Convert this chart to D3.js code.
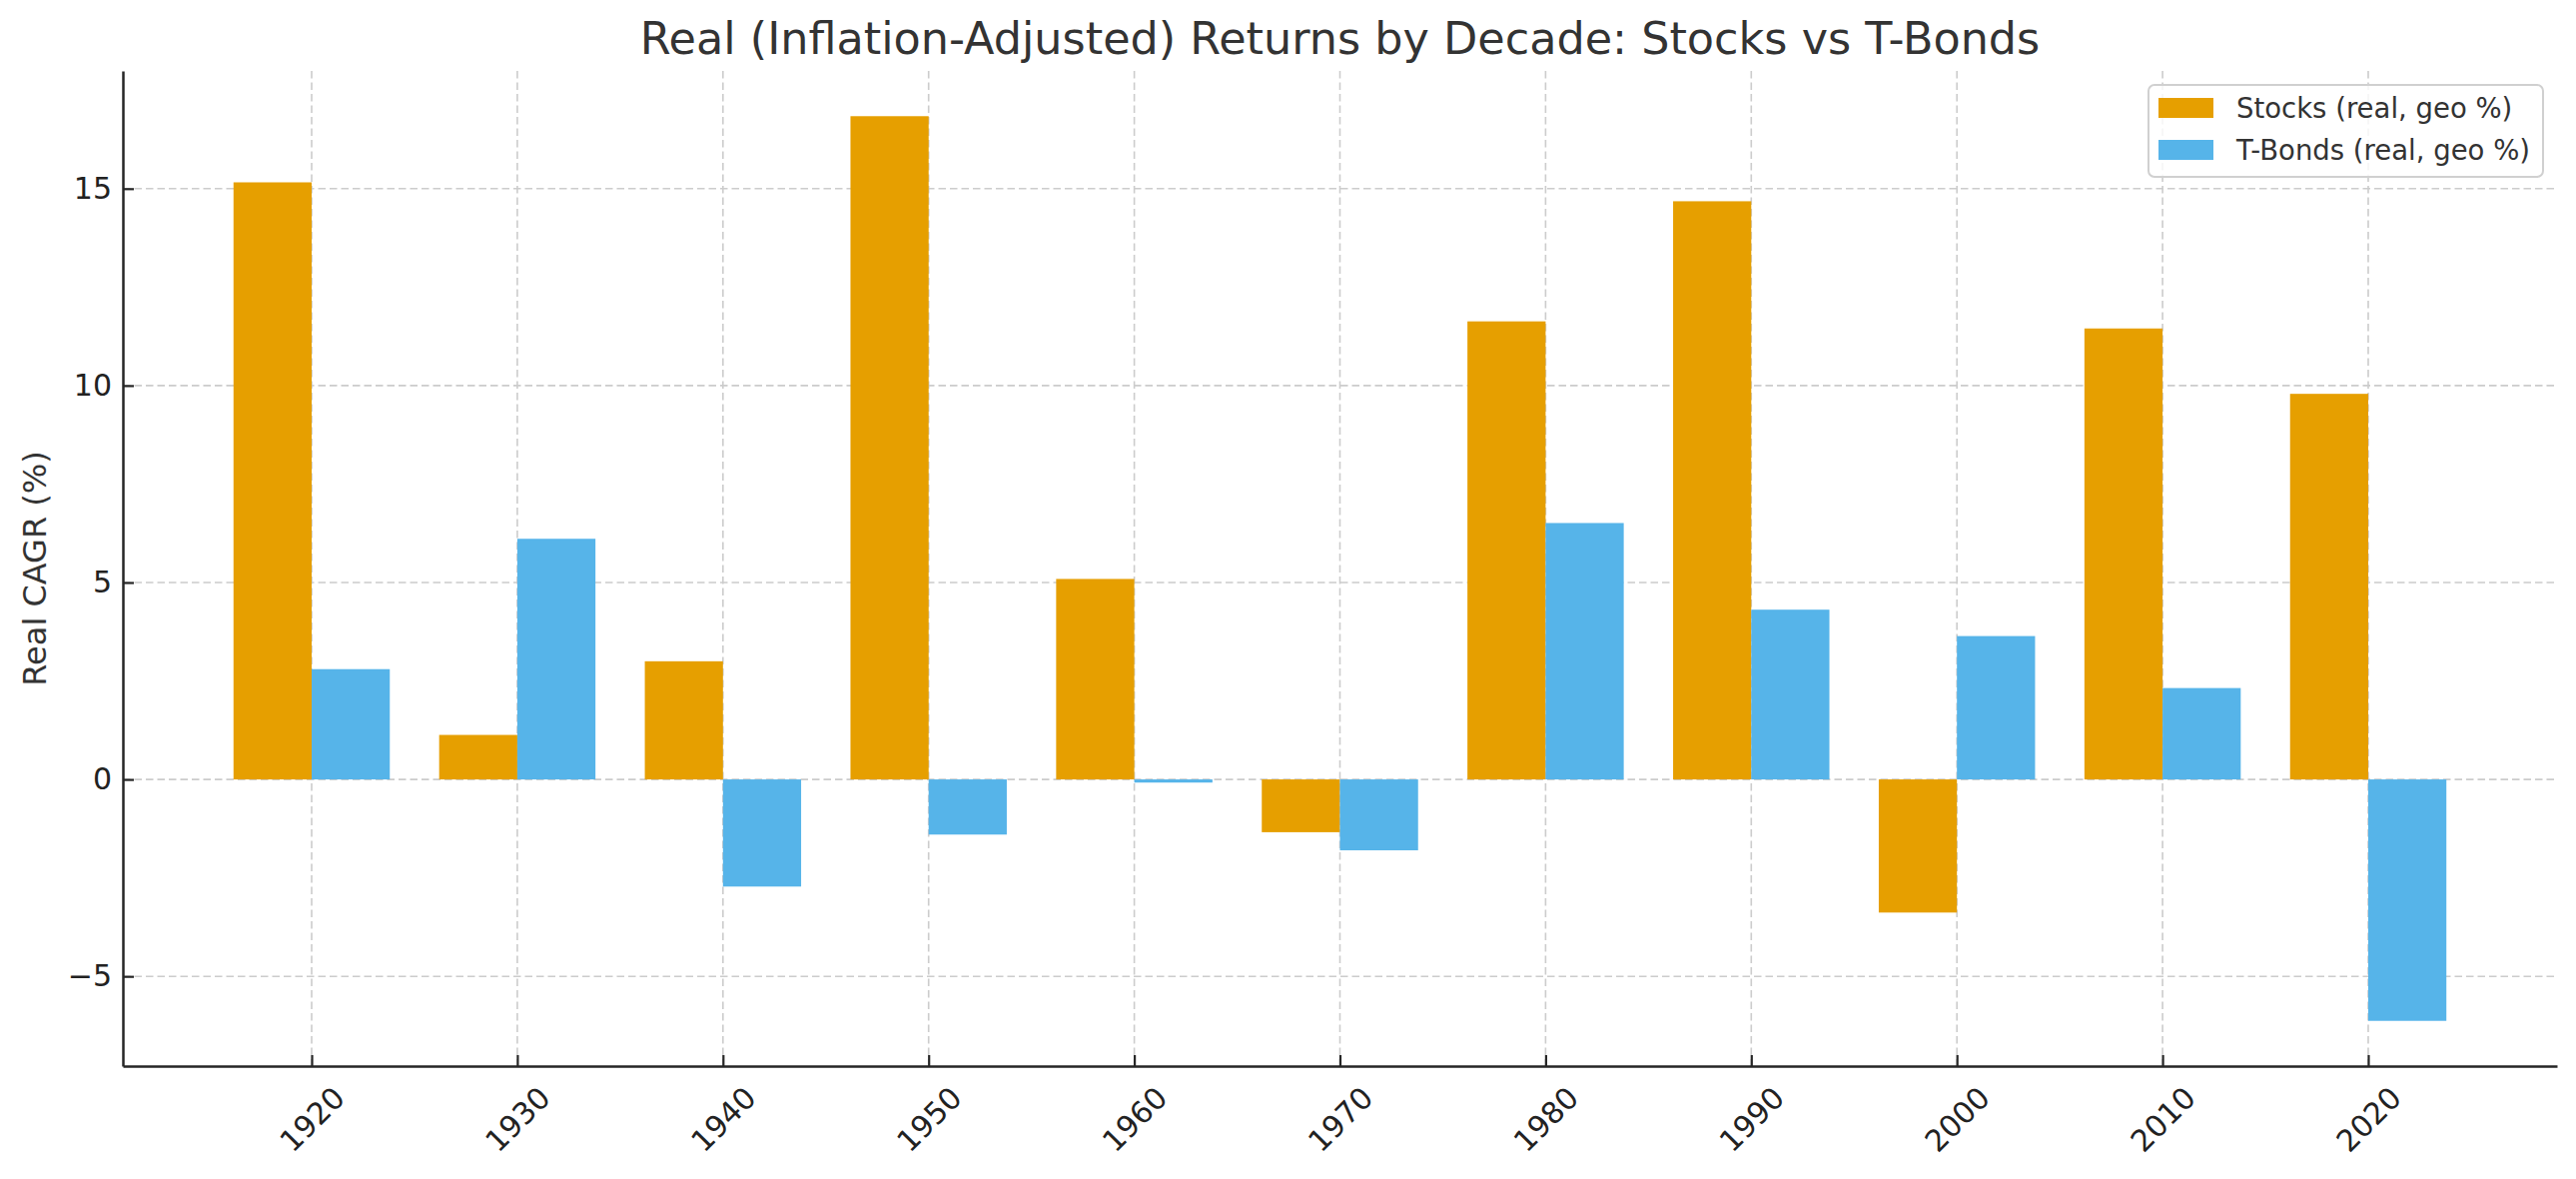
<!DOCTYPE html>
<html lang="en">
<head>
<meta charset="UTF-8">
<title>Real Returns by Decade</title>
<style>
  body { margin: 0; background: #fff; }
  svg { display: block; font-family: 'DejaVu Sans', sans-serif; }
</style>
<script src="https://d3js.org/d3.v7.min.js"></script>
</head>
<body>
<svg id="chart" width="2579" height="1180"></svg>
<script>
// data
const decades = ['1920', '1930', '1940', '1950', '1960', '1970', '1980', '1990', '2000', '2010', '2020'];
const stocks = [15.16, 1.13, 3.00, 16.84, 5.09, -1.34, 11.63, 14.68, -3.38, 11.45, 9.79];
const bonds = [2.80, 6.11, -2.72, -1.40, -0.08, -1.80, 6.51, 4.31, 3.64, 2.32, -6.13];
const yTicks = [-5, 0, 5, 10, 15];
const seriesNames = ['Stocks (real, geo %)', 'T-Bonds (real, geo %)'];
const seriesColors = ['#E69F00', '#56B4E9'];

const svg = d3.select('#chart');
const plot = { left: 123, right: 2560, top: 71, bottom: 1067 };
const barW = 0.38;

// matplotlib-like 5% margins
const xlo = -barW, xhi = decades.length - 1 + barW;
const xpad = (xhi - xlo) * 0.05;
const x = d3.scaleLinear().domain([xlo - xpad, xhi + xpad]).range([plot.left, plot.right]);

const all = stocks.concat(bonds);
const ylo = d3.min(all), yhi = d3.max(all);
const ypad = (yhi - ylo) * 0.05;
const y = d3.scaleLinear().domain([ylo - ypad, yhi + ypad]).range([plot.bottom, plot.top]);

// grid
const grid = svg.append('g');
grid.selectAll('.hg').data(yTicks).enter().append('line')
    .attr('x1', plot.left).attr('x2', plot.right)
    .attr('y1', d => y(d)).attr('y2', d => y(d));
grid.selectAll('.vg').data(decades).enter().append('line')
    .attr('x1', (d, i) => x(i)).attr('x2', (d, i) => x(i))
    .attr('y1', plot.top).attr('y2', plot.bottom);
grid.selectAll('line')
    .attr('stroke', '#cccccc')
    .attr('stroke-width', 1.6)
    .attr('stroke-dasharray', '7.5,4');

// bars
const series = [stocks, bonds];
series.forEach((vals, s) => {
    svg.append('g').selectAll('rect').data(vals).enter().append('rect')
        .attr('x', (d, i) => x(i + (s === 0 ? -barW : 0)))
        .attr('width', x(barW) - x(0))
        .attr('y', d => y(Math.max(d, 0)))
        .attr('height', d => Math.abs(y(d) - y(0)))
        .attr('fill', seriesColors[s]);
});

// axes (ticks pointing inward)
const yAxis = svg.append('g')
    .attr('transform', `translate(${plot.left},0)`)
    .call(d3.axisLeft(y).tickValues(yTicks).tickSize(-11).tickSizeOuter(0).tickPadding(11));
const xAxis = svg.append('g')
    .attr('transform', `translate(0,${plot.bottom})`)
    .call(d3.axisBottom(x).tickValues(d3.range(decades.length)).tickSize(-11).tickSizeOuter(0)
        .tickFormat(i => decades[i]));

[yAxis, xAxis].forEach(g => {
    g.select('.domain').attr('stroke', '#262626').attr('stroke-width', 2.5);
    g.selectAll('.tick line').attr('stroke', '#262626').attr('stroke-width', 2.2);
    g.selectAll('.tick text').attr('fill', '#222').style('font-size', '30px')
        .style('font-family', "'DejaVu Sans', sans-serif");
});

// rotate x labels 45deg, bbox centred on tick, top just below axis
xAxis.selectAll('.tick text').each(function () {
    const t = d3.select(this);
    t.attr('y', 0).attr('dy', null).attr('x', 0);
    const b = this.getBBox();
    const half = (b.width + b.height) * Math.SQRT1_2 / 2;
    t.attr('transform', `translate(0,${14 + half}) rotate(-45) translate(${-b.x - b.width / 2},${-b.y - b.height / 2})`);
});

// title and y label
svg.append('text')
    .attr('x', (plot.left + plot.right) / 2).attr('y', 54)
    .attr('text-anchor', 'middle')
    .attr('fill', '#333')
    .style('font-size', '44.5px')
    .text('Real (Inflation-Adjusted) Returns by Decade: Stocks vs T-Bonds');

svg.append('text')
    .attr('transform', `translate(35,${(plot.top + plot.bottom) / 2}) rotate(-90)`)
    .attr('text-anchor', 'middle')
    .attr('dominant-baseline', 'central')
    .attr('fill', '#333')
    .style('font-size', '32px')
    .text('Real CAGR (%)');

// legend
const leg = svg.append('g').attr('transform', 'translate(2151,85)');
leg.append('rect')
    .attr('width', 395).attr('height', 92).attr('rx', 6)
    .attr('fill', '#fff').attr('fill-opacity', 0.8)
    .attr('stroke', '#d0d0d0').attr('stroke-width', 2);
seriesNames.forEach((name, i) => {
    leg.append('rect')
        .attr('x', 10).attr('y', 13 + i * 42)
        .attr('width', 55).attr('height', 20)
        .attr('fill', seriesColors[i]);
    leg.append('text')
        .attr('x', 88).attr('y', 23 + i * 42)
        .attr('dominant-baseline', 'central')
        .attr('fill', '#333')
        .style('font-size', '27.5px')
        .text(name);
});
</script>
</body>
</html>
